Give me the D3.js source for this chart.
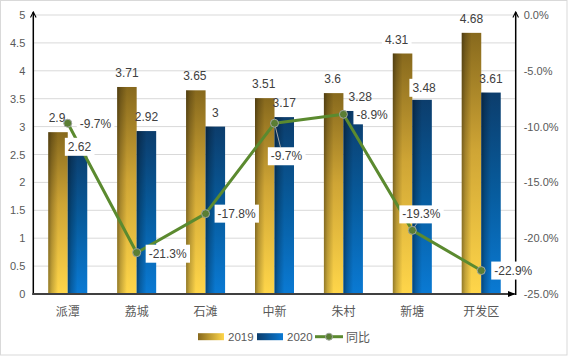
<!DOCTYPE html>
<html><head><meta charset="utf-8">
<script src="https://cdn.jsdelivr.net/npm/d3@7"></script>
<style>
html,body{margin:0;padding:0;background:#fff;}
svg{display:block;font-family:"Noto Sans CJK SC","Noto Sans",sans-serif;}
</style></head>
<body><svg id="c" width="568" height="357"></svg>
<script>
// ---- data ----
const categories = ["派潭","荔城","石滩","中新","朱村","新塘","开发区"];
const values2019 = [2.9, 3.71, 3.65, 3.51, 3.6, 4.31, 4.68];
const values2020 = [2.62, 2.92, 3, 3.17, 3.28, 3.48, 3.61];
const yoy = [-9.7, -21.3, -17.8, -9.7, -8.9, -19.3, -22.9];
const leftTicks = [0,0.5,1,1.5,2,2.5,3,3.5,4,4.5,5];
const rightTicks = [0,-5,-10,-15,-20,-25];
const seriesNames = ["2019","2020","同比"];

// ---- layout (label nudges, not data) ----
const nudge2019 = [[-1,0],[0,0],[-1,0],[-1,0],[-1,0],[-6,0],[0,0]];
const nudge2020 = [[2,13],[0,0],[0,0],[0,0],[7,0],[2,2],[0,0]];
const box2020 = [true,false,false,false,false,true,false];
const box2019 = [false,false,false,false,false,true,false];
// [dx, dy, anchor, leader]
const yoyLabelPos = [[12,1,"start",false],[12,1,"start",false],[12,0,"start",false],
  [12,33,"middle",true],[13,1,"start",false],[9,-16,"middle",true],[13,0,"start",false]];

const W=568,H=357, L=33.3, R=515.7, T=15, B=294;
const svg=d3.select("#c");
const defs=svg.append("defs");

function vgrad(id, stops){
  const g=defs.append("linearGradient").attr("id",id).attr("x1",0).attr("y1",0).attr("x2",0).attr("y2",1);
  stops.forEach(s=>g.append("stop").attr("offset",s[0]).attr("stop-color",s[1]).attr("stop-opacity",s[2]==null?1:s[2]));
}
function hgrad(id, stops){
  const g=defs.append("linearGradient").attr("id",id).attr("x1",0).attr("y1",0).attr("x2",1).attr("y2",0);
  stops.forEach(s=>g.append("stop").attr("offset",s[0]).attr("stop-color",s[1]).attr("stop-opacity",s[2]==null?1:s[2]));
}
vgrad("g2019",[[0,"#87691d"],[0.45,"#cfa535"],[1,"#ffd64a"]]);
vgrad("g2020",[[0,"#0c3d6c"],[0.5,"#075c9e"],[1,"#0a7ad4"]]);
hgrad("shade",[[0,"#000",0.42],[0.18,"#000",0.22],[0.5,"#000",0]]);
hgrad("lg2019",[[0,"#87691d"],[1,"#ffd64a"]]);
hgrad("lg2020",[[0,"#0c3d6c"],[1,"#0a7ad4"]]);
const marker=defs.append("marker").attr("id","arr").attr("viewBox","0 0 10 10").attr("refX",9).attr("refY",5)
  .attr("markerWidth",7).attr("markerHeight",7).attr("markerUnits","userSpaceOnUse").attr("orient","auto");
marker.append("path").attr("d","M1,1 L9,5 L1,9").attr("fill","none").attr("stroke","#000").attr("stroke-width",1.6);
const marker2=defs.append("marker").attr("id","arr2").attr("viewBox","0 0 10 10").attr("refX",9).attr("refY",5)
  .attr("markerWidth",8).attr("markerHeight",8).attr("markerUnits","userSpaceOnUse").attr("orient","auto");
marker2.append("path").attr("d","M0,1 L10,5 L0,9 Z").attr("fill","#000");

// border
svg.append("rect").attr("x",0.5).attr("y",0.5).attr("width",W-1.5).attr("height",H-2.5)
  .attr("fill","#fff").attr("stroke","#d9d9d9");

const x0=d3.scaleBand().domain(categories).range([L,R]).paddingInner(0.434).paddingOuter(0.217);
const x1=d3.scaleBand().domain(["2019","2020"]).range([0,x0.bandwidth()]);
const y=d3.scaleLinear().domain([0,5]).range([B,T]);
const y2=d3.scaleLinear().domain([-25,0]).range([B,T]);
const cx=c=>x0(c)+x0.bandwidth()/2;

// gridlines
svg.append("g").selectAll("line").data(leftTicks.filter(d=>d>0)).join("line")
  .attr("x1",L).attr("x2",R).attr("y1",d=>y(d)).attr("y2",d=>y(d))
  .attr("stroke","#d9d9d9").attr("stroke-width",1);

// left axis
const ax=d3.axisLeft(y).tickValues(leftTicks).tickSize(0).tickPadding(8).tickFormat(d3.format("~g"));
const ga=svg.append("g").attr("transform",`translate(${L},0)`).call(ax);
ga.select(".domain").remove();
ga.selectAll("text").attr("font-size",11).attr("fill","#595959").attr("font-family","'Liberation Sans','Noto Sans',sans-serif");
// right axis
const ax2=d3.axisRight(y2).tickValues(rightTicks).tickSize(0).tickPadding(8).tickFormat(d=>d.toFixed(1)+"%");
const gb=svg.append("g").attr("transform",`translate(${R},0)`).call(ax2);
gb.select(".domain").remove();
gb.selectAll("text").attr("font-size",11).attr("fill","#595959").attr("font-family","'Liberation Sans','Noto Sans',sans-serif");

// bars
const groups=svg.append("g").selectAll("g").data(categories).join("g").attr("transform",c=>`translate(${x0(c)},0)`);
[["2019",values2019,"g2019"],["2020",values2020,"g2020"]].forEach(([k,vals,gid])=>{
  groups.append("rect").attr("x",x1(k)).attr("width",x1.bandwidth())
    .attr("y",(c,i)=>y(vals[i])).attr("height",(c,i)=>B-y(vals[i])).attr("fill",`url(#${gid})`);
  groups.append("rect").attr("x",x1(k)).attr("width",x1.bandwidth())
    .attr("y",(c,i)=>y(vals[i])).attr("height",(c,i)=>B-y(vals[i])).attr("fill","url(#shade)");
});

// axes lines
svg.append("line").attr("x1",L).attr("x2",L).attr("y1",B+1).attr("y2",T-3).attr("stroke","#000").attr("stroke-width",1.5).attr("marker-end","url(#arr)");
svg.append("line").attr("x1",R).attr("x2",R).attr("y1",B+1).attr("y2",T-3).attr("stroke","#000").attr("stroke-width",1.5).attr("marker-end","url(#arr)");
svg.append("line").attr("x1",L-1).attr("x2",R-1).attr("y1",B).attr("y2",B).attr("stroke","#404040").attr("stroke-width",2).attr("marker-end","url(#arr2)");

// category labels
svg.append("g").selectAll("text").data(categories).join("text")
  .attr("x",c=>cx(c)).attr("y",310).attr("text-anchor","middle").attr("dominant-baseline","central")
  .attr("font-size",12).attr("fill","#595959").text(c=>c);

// yoy line
const lineColor="#5b8a2f";
svg.append("path").datum(yoy).attr("fill","none").attr("stroke",lineColor).attr("stroke-width",3).attr("stroke-linejoin","round")
  .attr("d",d3.line().x((d,i)=>cx(categories[i])).y(d=>y2(d)));
// leaders
const ll=svg.append("g");
yoy.forEach((v,i)=>{
  const p=yoyLabelPos[i];
  if(p[3]){
    const px=cx(categories[i]), py=y2(v);
    const ty = p[1]>0 ? py+p[1]-9 : py+p[1]+9;
    ll.append("line").attr("x1",px).attr("y1",py).attr("x2",px+p[0]*0.5).attr("y2",ty).attr("stroke","#a6a6a6").attr("stroke-width",1);
  }
});
svg.append("g").selectAll("circle").data(yoy).join("circle")
  .attr("cx",(d,i)=>cx(categories[i])).attr("cy",d=>y2(d)).attr("r",4)
  .attr("fill","#5a7e34").attr("stroke","#a0a6a0").attr("stroke-width",1);

// labels
function labelWithBox(g, xx, yy, txt, anchor, box){
  const t=g.append("text").attr("x",xx).attr("y",yy).attr("text-anchor",anchor).attr("dominant-baseline","central")
    .attr("font-size",12).attr("fill","#404040").attr("font-family","'Liberation Sans','Noto Sans',sans-serif").text(txt);
  if(box){
    const bb=t.node().getBBox();
    g.insert("rect","text").attr("x",bb.x-3).attr("y",yy-9).attr("width",bb.width+6).attr("height",18).attr("fill","#fff");
  }
}
const lab=svg.append("g");
categories.forEach((c,i)=>{
  const g1=lab.append("g");
  labelWithBox(g1, x0(c)+x1("2019")+x1.bandwidth()/2+nudge2019[i][0], y(values2019[i])-14+nudge2019[i][1], String(values2019[i]), "middle", box2019[i]);
  const g2=lab.append("g");
  labelWithBox(g2, x0(c)+x1("2020")+x1.bandwidth()/2+nudge2020[i][0], y(values2020[i])-14+nudge2020[i][1], String(values2020[i]), "middle", box2020[i]);
});
const yl=svg.append("g");
yoy.forEach((v,i)=>{
  const p=yoyLabelPos[i];
  const g=yl.append("g");
  labelWithBox(g, cx(categories[i])+p[0], y2(v)+p[1], v.toFixed(1)+"%", p[2], true);
});

// legend
const leg=svg.append("g");
const ly=336.7;
leg.append("rect").attr("x",198).attr("y",ly-3.5).attr("width",26).attr("height",7).attr("fill","url(#lg2019)");
leg.append("text").attr("x",228).attr("y",ly).attr("dominant-baseline","central").attr("font-size",11.5).attr("fill","#595959").attr("font-family","'Liberation Sans','Noto Sans',sans-serif").text(seriesNames[0]);
leg.append("rect").attr("x",257).attr("y",ly-3.5).attr("width",26).attr("height",7).attr("fill","url(#lg2020)");
leg.append("text").attr("x",287).attr("y",ly).attr("dominant-baseline","central").attr("font-size",11.5).attr("fill","#595959").attr("font-family","'Liberation Sans','Noto Sans',sans-serif").text(seriesNames[1]);
leg.append("line").attr("x1",315).attr("x2",343).attr("y1",ly).attr("y2",ly).attr("stroke",lineColor).attr("stroke-width",3);
leg.append("circle").attr("cx",329).attr("cy",ly).attr("r",3.5).attr("fill","#5a7e34").attr("stroke","#a0a6a0").attr("stroke-width",1);
leg.append("text").attr("x",346).attr("y",ly).attr("dominant-baseline","central").attr("font-size",12).attr("fill","#595959").text(seriesNames[2]);
</script></body></html>
